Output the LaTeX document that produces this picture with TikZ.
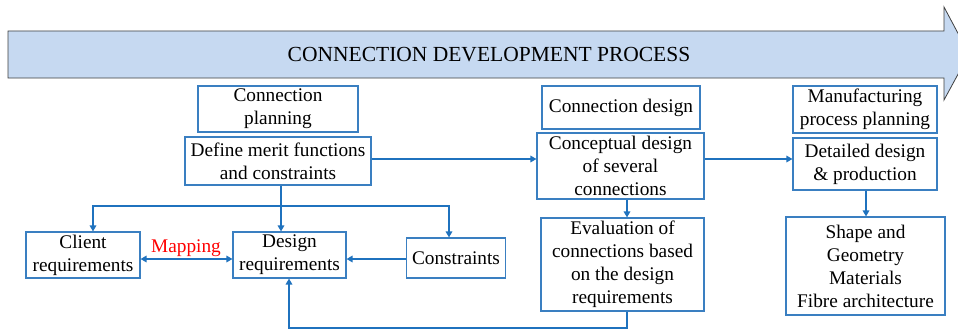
\documentclass[tikz,border=0pt]{standalone}
\usepackage{fontspec}
\setmainfont{Liberation Serif}
\usetikzlibrary{arrows.meta,calc}
\definecolor{boxblue}{HTML}{3A7FC1}
\definecolor{lineblue}{HTML}{1F72BE}
\definecolor{bandfill}{HTML}{C6D9F1}
\definecolor{bandedge}{HTML}{404040}
\begin{document}
\begin{tikzpicture}[x=1pt,y=-1pt,
 box/.style={draw=boxblue,line width=1.1pt,rectangle,inner sep=0pt,align=center,font=\fontsize{19.3}{23}\selectfont},
 conn/.style={draw=lineblue,line width=1.5pt},
 arr/.style={conn,-{Triangle[length=6pt,width=6.5pt]}},
 darr/.style={conn,{Triangle[length=6pt,width=6.5pt]}-{Triangle[length=6pt,width=6.5pt]}}]
\clip (0,0) rectangle (958,329);
\fill[white] (0,0) rectangle (958,329);
\draw[fill=bandfill,draw=bandedge,line width=0.8pt] (8,31) -- (944,31) -- (944,7) -- (969,54) -- (944,100) -- (944,78) -- (8,78) -- cycle;
\node[font=\fontsize{21.5}{24}\selectfont] (title) at (489,55) {CONNECTION DEVELOPMENT PROCESS};

\node[box,minimum width=160pt,minimum height=46pt] (plan) at (278,109) {Connection\\planning};
\node[box,minimum width=186pt,minimum height=48pt] (merit) at (278,161) {Define merit functions\\and constraints};
\node[box,minimum width=114pt,minimum height=46pt] (client) at (83,255) {Client\\requirements};
\node[box,minimum width=113pt,minimum height=46pt] (designreq) at (289.5,255) {Design\\requirements};
\node[box,minimum width=99pt,minimum height=40pt] (constraints) at (456,258) {Constraints};
\node[box,minimum width=158pt,minimum height=43pt] (cdesign) at (621,107.5) {Connection design};
\node[box,minimum width=167pt,minimum height=66pt] (concept) at (620.5,166) {Conceptual design\\of several\\connections};
\node[box,minimum width=163pt,minimum height=93pt] (eval) at (622.5,264.5) {Evaluation of\\connections based\\on the design\\requirements};
\node[box,minimum width=144pt,minimum height=47pt] (manuf) at (865,109.5) {Manufacturing\\process planning};
\node[box,minimum width=144pt,minimum height=52pt] (detail) at (865,164) {Detailed design\\\& production};
\node[box,minimum width=159pt,minimum height=98pt] (shape) at (865.5,266) {Shape and\\Geometry\\Materials\\Fibre architecture};

\coordinate (br) at (281,206);
\coordinate (bl) at (93,206);
\coordinate (bc) at (449,206);
\coordinate (my) at (0,259);
\coordinate (ty) at (0,159);
\coordinate (cx) at (627,0);
\coordinate (fb) at (627,328);
\coordinate (fb2) at (289,328);
\coordinate (dx) at (866,0);

\draw[arr] (merit.south -| br) -- (designreq.north -| br);
\draw[arr] (br) -- (bl) -- (client.north -| bl);
\draw[arr] (br) -- (bc) -- (constraints.north -| bc);
\draw[darr] (client.east |- my) -- (designreq.west |- my);
\node[text=red,font=\fontsize{19.3}{23}\selectfont] (maplabel) at (186,248) {Mapping};
\draw[arr] (constraints.west |- my) -- (designreq.east |- my);
\draw[arr] (merit.east |- ty) -- (concept.west |- ty);
\draw[arr] (concept.east |- ty) -- (detail.west |- ty);
\draw[arr] (concept.south -| cx) -- (eval.north -| cx);
\draw[arr] (eval.south -| cx) -- (fb) -- (fb2) -- (designreq.south -| fb2);
\draw[arr] (detail.south -| dx) -- (shape.north -| dx);
\end{tikzpicture}
\end{document}
